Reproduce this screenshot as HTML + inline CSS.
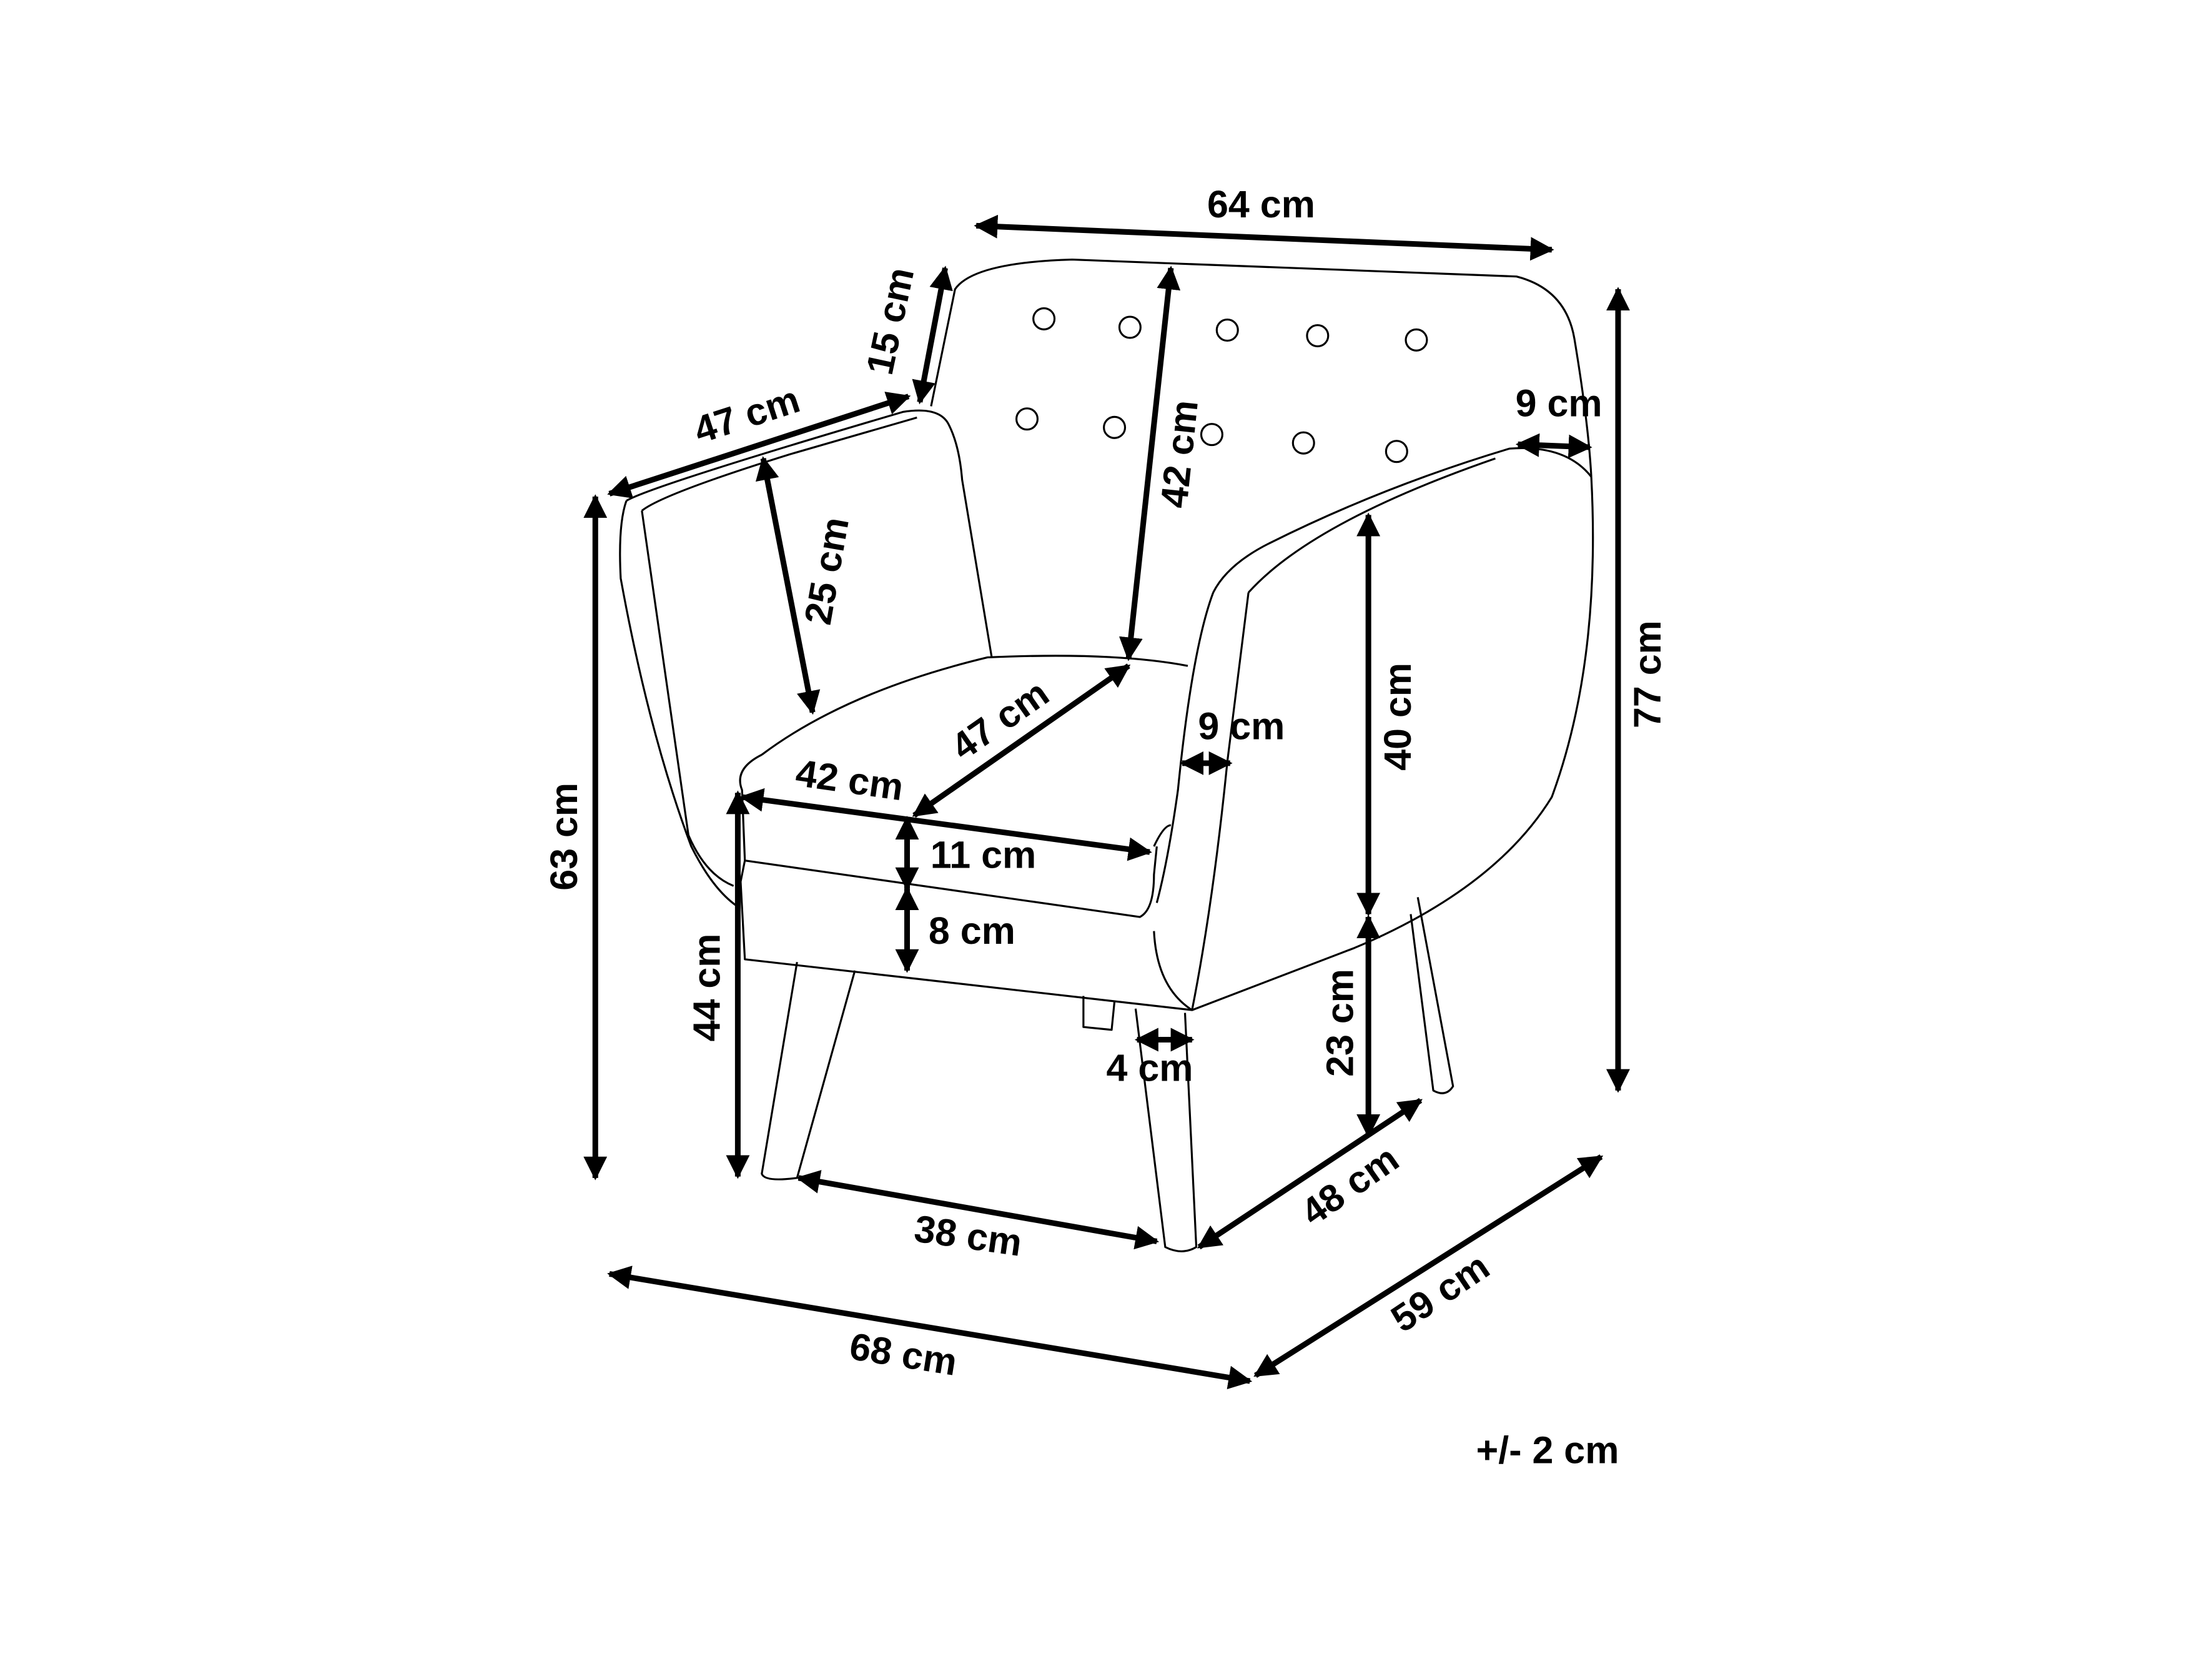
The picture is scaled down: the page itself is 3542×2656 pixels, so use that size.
<!DOCTYPE html>
<html><head><meta charset="utf-8"><style>
html,body{margin:0;padding:0;background:#fff;}
svg{display:block;}
text{font-family:"Liberation Sans",sans-serif;font-weight:bold;font-size:27px;fill:#000;text-anchor:middle;dominant-baseline:middle;}
.a{stroke:#000;stroke-width:4;fill:none;marker-start:url(#h);marker-end:url(#h);}
.c{stroke:#000;stroke-width:1.4;fill:none;stroke-linejoin:round;}
</style></head><body>
<svg width="3542" height="2656" viewBox="0 0 1568 1176" preserveAspectRatio="none">
<defs><marker id="h" viewBox="0 0 10 10" refX="9" refY="5" markerWidth="4.2" markerHeight="4.2" orient="auto-start-reverse" markerUnits="strokeWidth"><path d="M0,0 L10,5 L0,10 z" fill="#000"/></marker></defs>
<rect width="1568" height="1176" fill="#fff"/>
<!-- chair -->
<g class="c">
<path d="M660,288 L677,205 Q690,186 760,184 L1075,196 Q1110,205 1116,240 Q1126,300 1128,338"/>
<path d="M444,355 Q438,372 440,410 Q460,520 490,600 Q505,630 522,642"/>
<path d="M444,355 Q460,345 640,292 Q665,288 672,300 Q680,315 682,340 L703,466"/>
<path d="M455,362 L488,592 Q500,620 520,628"/>
<path d="M455,362 Q470,350 560,322 L650,296"/>
<path d="M540,535 Q600,490 700,466 Q790,462 842,472"/>
<path d="M540,535 Q520,545 526,560 L528,610 L808,650 Q818,645 818,620 L820,600"/>
<path d="M528,610 L525,625 L528,680 L845,716"/>
<path d="M818,600 Q825,585 830,585"/>
<path d="M860,420 Q870,400 900,385 Q980,345 1070,318 Q1110,315 1128,338"/>
<path d="M1128,338 Q1135,470 1100,565 Q1060,630 960,672 L845,716 Q820,700 818,660"/>
<path d="M885,420 Q930,370 1060,325"/>
<path d="M885,420 L870,540 Q860,640 845,716"/>
<path d="M860,420 Q845,460 835,560 Q828,610 820,640"/>
<path d="M565,682 L540,832 Q542,838 565,835 L606,688"/>
<path d="M805,715 L826,884 Q838,890 848,884 L840,718"/>
<path d="M1000,648 L1016,773 Q1025,778 1030,770 L1005,636"/>
<path d="M768,706 L768,728 L788,730 L790,710"/>
</g>
<g class="c">
<circle cx="740" cy="226" r="7.5"/><circle cx="801" cy="232" r="7.5"/><circle cx="870" cy="234" r="7.5"/><circle cx="934" cy="238" r="7.5"/><circle cx="1004" cy="241" r="7.5"/>
<circle cx="728" cy="297" r="7.5"/><circle cx="790" cy="303" r="7.5"/><circle cx="859" cy="308" r="7.5"/><circle cx="924" cy="314" r="7.5"/><circle cx="990" cy="320" r="7.5"/>
</g>
<!-- arrows -->
<line class="a" x1="692" y1="160" x2="1100" y2="177"/>
<line class="a" x1="1147" y1="205" x2="1147" y2="773"/>
<line class="a" x1="670" y1="190" x2="652" y2="285"/>
<line class="a" x1="432" y1="350" x2="644" y2="281"/>
<line class="a" x1="422" y1="352" x2="422" y2="835"/>
<line class="a" x1="541" y1="325" x2="576" y2="505"/>
<line class="a" x1="830" y1="190" x2="800" y2="467"/>
<line class="a" x1="1076" y1="315" x2="1127" y2="317"/>
<line class="a" x1="970" y1="365" x2="970" y2="648"/>
<line class="a" x1="648" y1="578" x2="800" y2="472"/>
<line class="a" x1="526" y1="565" x2="815" y2="604"/>
<line class="a" x1="838" y1="541" x2="872" y2="541"/>
<line class="a" x1="643" y1="580" x2="643" y2="630"/>
<line class="a" x1="643" y1="630" x2="643" y2="688"/>
<line class="a" x1="523" y1="562" x2="523" y2="834"/>
<line class="a" x1="970" y1="650" x2="970" y2="805"/>
<line class="a" x1="806" y1="737" x2="845" y2="737"/>
<line class="a" x1="850" y1="884" x2="1007" y2="780"/>
<line class="a" x1="566" y1="835" x2="820" y2="880"/>
<line class="a" x1="432" y1="903" x2="886" y2="979"/>
<line class="a" x1="890" y1="975" x2="1135" y2="820"/>
<!-- labels -->
<text x="894" y="147">64 cm</text>
<text transform="translate(1170,478) rotate(-90)">77 cm</text>
<text transform="translate(633,228) rotate(-78)">15 cm</text>
<text transform="translate(530,296) rotate(-18)">47 cm</text>
<text transform="translate(402,593) rotate(-90)">63 cm</text>
<text transform="translate(588,405) rotate(-80)">25 cm</text>
<text transform="translate(838,322) rotate(-84)">42 cm</text>
<text x="1105" y="288">9 cm</text>
<text transform="translate(993,508) rotate(-90)">40 cm</text>
<text transform="translate(710,512) rotate(-35)">47 cm</text>
<text transform="translate(602,555) rotate(8)">42 cm</text>
<text x="880" y="517">9 cm</text>
<text x="697" y="608">11 cm</text>
<text x="689" y="662">8 cm</text>
<text transform="translate(503,700) rotate(-90)">44 cm</text>
<text transform="translate(952,725) rotate(-90)">23 cm</text>
<text x="815" y="759">4 cm</text>
<text transform="translate(958,842) rotate(-35)">48 cm</text>
<text transform="translate(686,878) rotate(8)">38 cm</text>
<text transform="translate(640,962) rotate(9)">68 cm</text>
<text transform="translate(1022,918) rotate(-34)">59 cm</text>
<text x="1097" y="1030">+/- 2 cm</text>
</svg>
</body></html>
